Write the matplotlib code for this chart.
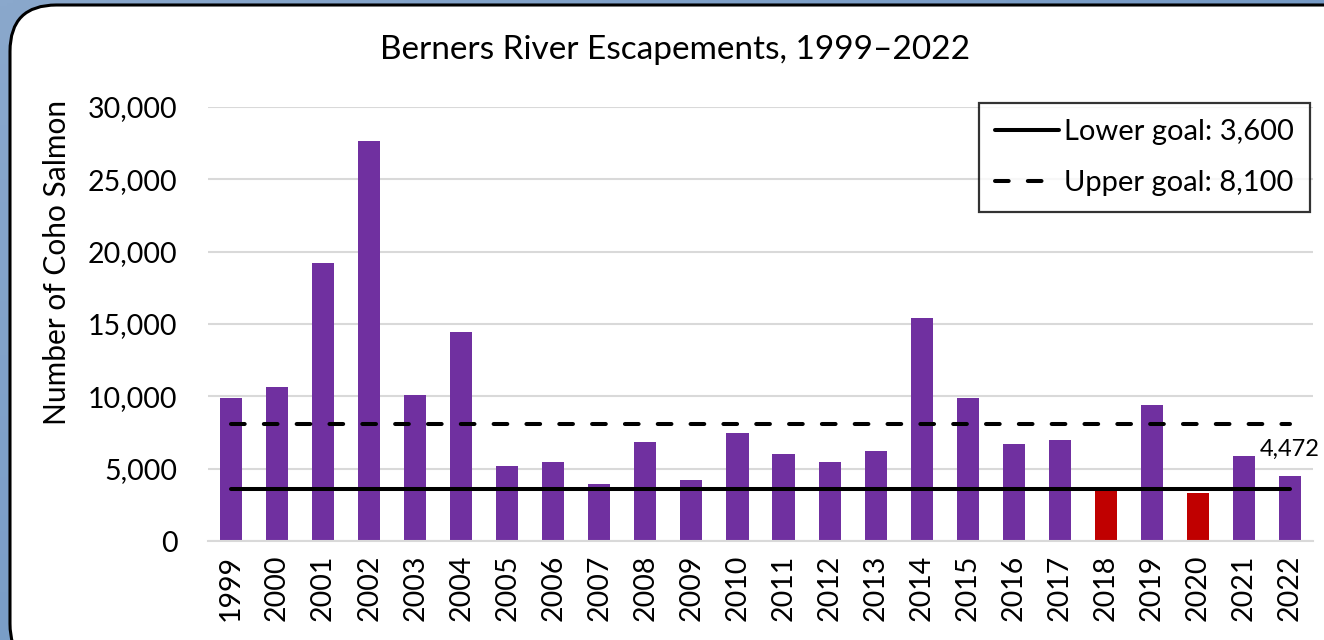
import numpy as np
import matplotlib
matplotlib.use("Agg")
import matplotlib.pyplot as plt
from matplotlib.patches import FancyBboxPatch
from matplotlib.ticker import FuncFormatter, MultipleLocator
from matplotlib.colors import LinearSegmentedColormap

plt.rcParams['font.family'] = ['Lato', 'DejaVu Sans']

# ---- data ----
years = [str(y) for y in range(1999, 2023)]
escapement = [9880, 10620, 19250, 27660, 10070, 14430, 5180, 5440, 3910, 6820,
              4190, 7490, 6010, 5460, 6240, 15440, 9910, 6680, 7010, 3430,
              9380, 3290, 5900, 4472]
lower_goal = 3600
upper_goal = 8100
lower_label = "Lower goal: 3,600"
upper_label = "Upper goal: 8,100"
title = "Berners River Escapements, 1999\u20132022"
ylabel = "Number of Coho Salmon"
last_label = "4,472"

purple = '#7030A0'
red = '#C00000'

W, H = 1324, 640
fig = plt.figure(figsize=(W / 100, H / 100), dpi=100)

# background gradient
bg = fig.add_axes([0, 0, 1, 1], zorder=-10)
gy, gx = np.mgrid[0:1:200j, 0:1:200j]
grad = 0.55 * gx + 0.45 * gy
cmap = LinearSegmentedColormap.from_list('bgc', ['#8AA8CC', '#6690C2'])
bg.imshow(grad, cmap=cmap, extent=[0, 1, 0, 1], aspect='auto', origin='upper')
bg.set_xlim(0, 1)
bg.set_ylim(0, 1)
bg.axis('off')
panel = FancyBboxPatch((10 / W, -30 / H), (W + 40) / W, (H - 5 + 30) / H,
                       boxstyle="round,pad=0,rounding_size=0.035",
                       transform=bg.transAxes, facecolor='white',
                       edgecolor='black', linewidth=2.2, mutation_aspect=W / H)
bg.add_patch(panel)

ax = fig.add_axes([208 / W, (H - 541) / H, 1105 / W, 434 / H])
ax.set_facecolor('none')
x = np.arange(len(years))
colors = [red if v < lower_goal else purple for v in escapement]
ax.bar(x, escapement, width=0.48, color=colors, zorder=2)

ax.plot([x[0], x[-1]], [lower_goal, lower_goal], color='black', lw=2.9,
        solid_capstyle='round', zorder=3, label=lower_label)
ax.plot([x[0], x[-1]], [upper_goal, upper_goal], color='black', lw=2.9,
        linestyle=(0, (3.4, 4.75)), dash_capstyle='round', zorder=3,
        label=upper_label)

ax.annotate(last_label, (x[-1], escapement[-1]), xytext=(0, 12),
            textcoords='offset points', ha='center', va='bottom',
            fontsize=17)

ax.set_xlim(-0.5, len(years) - 0.5)
ax.set_ylim(0, 30000)
ax.yaxis.set_major_locator(MultipleLocator(5000))
ax.yaxis.set_major_formatter(FuncFormatter(lambda v, p: f"{int(v):,}"))
ax.set_xticks(x)
ax.set_xticklabels(years, rotation=90)
ax.tick_params(axis='both', length=0, labelsize=20.5)
ax.tick_params(axis='y', pad=22)
ax.tick_params(axis='x', pad=10)
ax.grid(axis='y', color='#D9D9D9', lw=1.5, zorder=0)
for s in ['top', 'right', 'left']:
    ax.spines[s].set_visible(False)
ax.spines['bottom'].set_color('#D9D9D9')
ax.spines['bottom'].set_linewidth(1.5)

leg = ax.legend(loc='upper right', bbox_to_anchor=(0.997, 1.009),
                borderaxespad=0, fontsize=21, frameon=True, fancybox=False,
                handlelength=2.2, handletextpad=0.15, labelspacing=0.85,
                borderpad=0.55)
leg.get_frame().set_edgecolor('black')
leg.get_frame().set_linewidth(1.6)

fig.text(675 / W, 1 - 50 / H, title, ha='center', va='center', fontsize=24)
fig.text(57 / W, 1 - 262 / H, ylabel, ha='center', va='center',
         rotation=90, fontsize=21.5)

fig.savefig('out.png', dpi=100)
